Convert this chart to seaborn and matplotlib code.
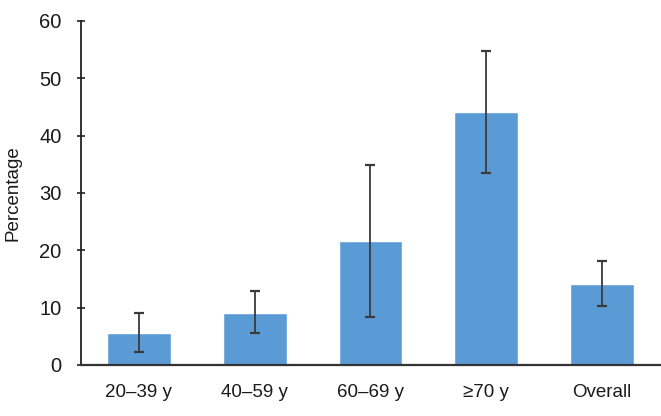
import matplotlib
matplotlib.use('Agg')
import matplotlib.pyplot as plt
import numpy as np
import seaborn as sns

groups = ['20–39 y', '40–59 y', '60–69 y', '≥70 y', 'Overall']
pct = [5.6, 9.1, 21.6, 44.2, 14.1]
ci_low = [2.3, 5.6, 8.4, 33.5, 10.3]
ci_high = [9.1, 12.9, 34.9, 54.8, 18.2]

sns.set_style('white')
plt.rcParams['font.family'] = ['Liberation Sans', 'DejaVu Sans']

fig = plt.figure(figsize=(6.61, 4.16), dpi=100)
ax = fig.add_axes([0.1225, 0.1226, 0.876, 0.827])

sns.barplot(x=groups, y=pct, color='#5B9BD5', saturation=1, width=0.55, ax=ax)

# asymmetric error bars (95% CI)
xpos = np.arange(len(groups))
err = [np.array(pct) - np.array(ci_low), np.array(ci_high) - np.array(pct)]
ax.errorbar(xpos, pct, yerr=err, fmt='none', ecolor='#3a3a3a',
            elinewidth=1.3, capsize=3.5, capthick=1.6)

ax.set_ylim(0, 60)
ax.set_yticks(range(0, 61, 10))
ax.set_xlim(-0.5, len(groups) - 0.5)
ax.set_ylabel('Percentage', fontsize=13.5, color='#1a1a1a', labelpad=13)
ax.tick_params(axis='y', labelsize=14.5, length=6, width=1.2, direction='inout',
               left=True, pad=11, labelcolor='#1a1a1a', color='#222222')
ax.tick_params(axis='x', labelsize=13.5, length=0, pad=14, labelcolor='#1a1a1a')
sns.despine(ax=ax)
ax.spines['left'].set_linewidth(1.3)
ax.spines['bottom'].set_linewidth(1.6)
ax.spines['left'].set_color('#222222')
ax.spines['bottom'].set_color('#333333')

fig.savefig('out.png', dpi=100)
